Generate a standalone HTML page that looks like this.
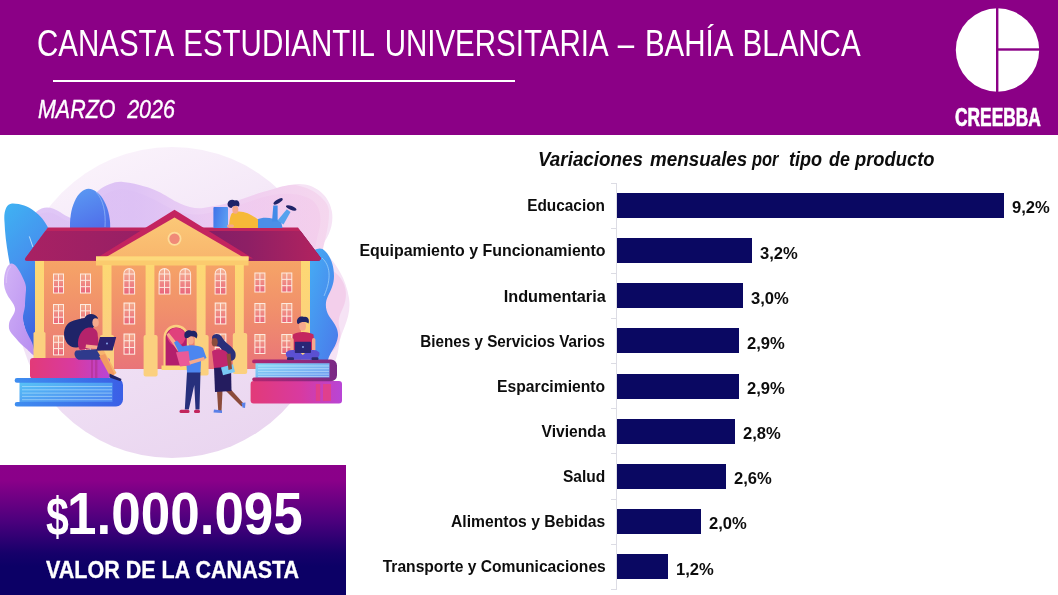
<!DOCTYPE html>
<html lang="es">
<head>
<meta charset="utf-8">
<title>Canasta Estudiantil Universitaria – Bahía Blanca</title>
<style>
html,body{margin:0;padding:0;background:#fff;}
body{width:1058px;height:595px;position:relative;overflow:hidden;font-family:"Liberation Sans",sans-serif;}
.abs{position:absolute;white-space:nowrap;line-height:1;}
#hdr{position:absolute;left:0;top:0;width:1058px;height:135px;background:#8b0086;}
#title{left:37px;top:26px;font-size:36px;color:#fff;word-spacing:3.2px;transform-origin:0 0;transform:scaleX(0.819);}
#rule{position:absolute;left:53px;top:80px;width:462px;height:2px;background:#fff;}
#sub{left:38px;top:96px;font-size:26px;font-style:italic;color:#fff;-webkit-text-stroke:0.4px #fff;word-spacing:7px;transform-origin:0 0;transform:scaleX(0.825);}
#logo{position:absolute;left:950px;top:4px;width:100px;height:96px;}
#brand{left:955.3px;top:104.2px;font-size:26px;font-weight:700;color:#fff;-webkit-text-stroke:0.7px #fff;transform-origin:0 0;transform:scaleX(0.668);}
#illus{position:absolute;left:0;top:135px;width:350px;height:330px;}
#box{position:absolute;left:0;top:465px;width:346px;height:130px;background:linear-gradient(180deg,#8b0089 0%,#8a0089 12%,#4c007d 43%,#16006a 68%,#0c0066 78%,#0c0066 100%);}
#cur{left:45.6px;top:489.2px;font-size:54px;font-weight:700;color:#fff;transform-origin:0 0;transform:scaleX(0.76);}
#val{left:67.4px;top:484.7px;font-size:59px;font-weight:700;color:#fff;transform-origin:0 0;transform:scaleX(0.8985);}
#cap{left:46px;top:559px;font-size:23px;font-weight:700;color:#fff;-webkit-text-stroke:0.3px #fff;transform-origin:0 0;transform:scaleX(0.936);}
#ctitle{position:absolute;left:0;top:149px;width:1058px;height:24px;font-size:20px;font-weight:700;font-style:italic;color:#0d0d0d;line-height:1;white-space:nowrap;}
.cw{position:absolute;top:0;transform-origin:0 0;}
#axis{position:absolute;left:616px;top:182.5px;width:1px;height:407px;background:#dcdce4;}
.tick{position:absolute;left:611px;width:6px;height:1px;background:#dcdce4;}
.bar{position:absolute;left:617px;height:25px;background:#0a0862;}
.lab{position:absolute;right:452.6px;white-space:nowrap;line-height:1;font-size:17px;font-weight:700;color:#0d0d0d;transform-origin:100% 0;}
.pct{position:absolute;white-space:nowrap;line-height:1;font-size:16.5px;font-weight:700;color:#0d0d0d;transform-origin:0 0;}
</style>
</head>
<body>
<div id="hdr"></div>
<div id="title" class="abs">CANASTA ESTUDIANTIL UNIVERSITARIA – BAHÍA BLANCA</div>
<div id="rule"></div>
<div id="sub" class="abs">MARZO 2026</div>
<svg id="logo" viewBox="950 4 100 96">
<circle cx="997.5" cy="50" r="41.7" fill="#fff"/>
<rect x="996" y="6" width="2.4" height="88" fill="#8b0086"/>
<rect x="997" y="48.3" width="44" height="2.4" fill="#8b0086"/>
</svg>
<div id="brand" class="abs">CREEBBA</div>

<svg id="illus" viewBox="0 135 350 330">
<defs>
<linearGradient id="gCirc" x1="0.2" y1="0" x2="0.6" y2="1"><stop offset="0" stop-color="#fbf4fc"/><stop offset="0.45" stop-color="#f2e4f6"/><stop offset="1" stop-color="#ead6f0"/></linearGradient>
<linearGradient id="gBlobL" x1="0" y1="0" x2="1" y2="1"><stop offset="0" stop-color="#d2b3f6"/><stop offset="1" stop-color="#b68cf0"/></linearGradient>
<linearGradient id="gBlobT" x1="0" y1="0" x2="0" y2="1"><stop offset="0" stop-color="#ead3f5"/><stop offset="1" stop-color="#dcc0f3"/></linearGradient>
<linearGradient id="gWave" gradientUnits="userSpaceOnUse" x1="36" y1="0" x2="330" y2="0"><stop offset="0" stop-color="#e0c7f6"/><stop offset="0.33" stop-color="#dec3f5"/><stop offset="0.55" stop-color="#ebcef4"/><stop offset="0.75" stop-color="#f1d0f0"/><stop offset="1" stop-color="#f5d7ee"/></linearGradient>
<linearGradient id="gWave2" gradientUnits="userSpaceOnUse" x1="36" y1="0" x2="330" y2="0"><stop offset="0" stop-color="#dcbff4" stop-opacity="0.55"/><stop offset="0.4" stop-color="#dcbff4" stop-opacity="0.5"/><stop offset="0.7" stop-color="#efc6ee" stop-opacity="0.45"/><stop offset="1" stop-color="#f3c8ea" stop-opacity="0.5"/></linearGradient>
<linearGradient id="gBlobR" x1="0" y1="0" x2="1" y2="1"><stop offset="0" stop-color="#f6e3f6"/><stop offset="1" stop-color="#f0cdec"/></linearGradient>
<linearGradient id="gLeaf1" x1="0" y1="0" x2="0.3" y2="1"><stop offset="0" stop-color="#3fb3f3"/><stop offset="0.5" stop-color="#4690ee"/><stop offset="1" stop-color="#3f63e0"/></linearGradient>
<linearGradient id="gLeaf2" x1="0" y1="0" x2="0.4" y2="1"><stop offset="0" stop-color="#5b9cf3"/><stop offset="1" stop-color="#5070ea"/></linearGradient><linearGradient id="gBook" x1="0" y1="0" x2="1" y2="0.3"><stop offset="0" stop-color="#3f72e8"/><stop offset="1" stop-color="#5a9cf2"/></linearGradient>
<linearGradient id="gLeaf3" x1="0" y1="0" x2="1" y2="1"><stop offset="0" stop-color="#45b0f5"/><stop offset="1" stop-color="#4a78ea"/></linearGradient>
<linearGradient id="gWall" x1="0" y1="0" x2="0" y2="1"><stop offset="0" stop-color="#f6a566"/><stop offset="0.5" stop-color="#f08e6c"/><stop offset="1" stop-color="#e97479"/></linearGradient>
<linearGradient id="gRoof" x1="0" y1="0" x2="1" y2="0"><stop offset="0" stop-color="#a82163"/><stop offset="1" stop-color="#7c1d68"/></linearGradient>
<linearGradient id="gRoofR" x1="0" y1="0" x2="1" y2="0"><stop offset="0" stop-color="#7c1d68"/><stop offset="0.5" stop-color="#8e1f65"/><stop offset="1" stop-color="#b2235f"/></linearGradient>
<linearGradient id="gPed" x1="0" y1="0" x2="0" y2="1"><stop offset="0" stop-color="#fbc877"/><stop offset="1" stop-color="#f8b66d"/></linearGradient>
<linearGradient id="gCol" x1="0" y1="0" x2="0" y2="1"><stop offset="0" stop-color="#fdd873"/><stop offset="1" stop-color="#fbcf80"/></linearGradient>
<linearGradient id="gWin" x1="0" y1="0" x2="0" y2="1"><stop offset="0" stop-color="#f7a3a0"/><stop offset="1" stop-color="#ee6f7c"/></linearGradient>
<linearGradient id="gPinkBk" x1="0" y1="0" x2="1" y2="0"><stop offset="0" stop-color="#e23a78"/><stop offset="0.55" stop-color="#d83aa0"/><stop offset="1" stop-color="#b845d6"/></linearGradient>
<linearGradient id="gBlueBk" x1="0" y1="0" x2="1" y2="0"><stop offset="0" stop-color="#3f8ef0"/><stop offset="1" stop-color="#3b5fe6"/></linearGradient>
<linearGradient id="gPages" x1="0" y1="0" x2="1" y2="1"><stop offset="0" stop-color="#58c3f6"/><stop offset="1" stop-color="#4a7ff0"/></linearGradient>
<linearGradient id="gPages2" x1="0" y1="0" x2="1" y2="1"><stop offset="0" stop-color="#86dcf6"/><stop offset="1" stop-color="#6a92f0"/></linearGradient>
<linearGradient id="gPurBk" x1="0" y1="0" x2="1" y2="0"><stop offset="0" stop-color="#b02670"/><stop offset="1" stop-color="#7a2a86"/></linearGradient>
<linearGradient id="gWinR" gradientUnits="userSpaceOnUse" x1="0" y1="0" x2="0" y2="20"><stop offset="0" stop-color="#f5ae8c"/><stop offset="1" stop-color="#e9637a"/></linearGradient><linearGradient id="gWinA" gradientUnits="userSpaceOnUse" x1="0" y1="0" x2="0" y2="26.6"><stop offset="0" stop-color="#f6b694"/><stop offset="1" stop-color="#e9637a"/></linearGradient>
<g id="winR"><rect x="0" y="0" width="11" height="20" fill="#fdeadf"/><g fill="url(#gWinR)"><rect x="1.00" y="1.00" width="4.00" height="5.33"/><rect x="6.00" y="1.00" width="4.00" height="5.33"/><rect x="1.00" y="7.33" width="4.00" height="5.33"/><rect x="6.00" y="7.33" width="4.00" height="5.33"/><rect x="1.00" y="13.67" width="4.00" height="5.33"/><rect x="6.00" y="13.67" width="4.00" height="5.33"/></g></g>
<g id="winA"><path d="M0 26.6V5.9a5.9 5.9 0 0 1 11.8 0V26.6Z" fill="#fdeadf"/><g fill="url(#gWinA)"><path d="M1.00 5.50V5.90A4.90 4.90 0 0 1 5.40 1.15V5.50Z"/><path d="M10.80 5.50V5.90A4.90 4.90 0 0 0 6.40 1.15V5.50Z"/><rect x="1.00" y="6.50" width="4.40" height="5.70"/><rect x="6.40" y="6.50" width="4.40" height="5.70"/><rect x="1.00" y="13.20" width="4.40" height="5.70"/><rect x="6.40" y="13.20" width="4.40" height="5.70"/><rect x="1.00" y="19.90" width="4.40" height="5.70"/><rect x="6.40" y="19.90" width="4.40" height="5.70"/></g></g>
</defs>
<!-- background -->
<circle cx="172" cy="302.5" r="155.5" fill="url(#gCirc)"/>
<path d="M262 200C275 188 292 182 305 184.5C319 187 330 198 332 212C334 226 328 238 320 248C332 258 345 274 349 298C352 318 341 330 339 345C337 365 326 385 300 396L290 300Z" fill="#f6e3f5"/>
<path d="M36 262V212C44 205 52 207 60 212C66 216 70 218 72 218L98 191C106 184.500 116 181 123 182C140 184 150 188 157 191C166 195 172 200 180 203.500C188 207 196 209 203 208C215 206 226 204 236 201C250 196 262 192 270 190C282 186 292 184 298 185.500C308 188 314 191 318 194.500C326 201 329 206 329 212C329 220 328 226 327 231L320 262Z" fill="url(#gWave)"/>
<path d="M36 262V216C46 210 54 213 60 217C66 221 70 222 74 222L100 198C110 190 120 188 128 190C142 193 154 199 164 205C176 212 190 216 203 214C220 211 240 205 260 198C280 192 300 192 312 200C322 208 322 222 318 234L312 262Z" fill="url(#gWave2)"/>
<path d="M322 262C330 270 338 272 343 282C348 292 346 302 342 310C338 318 338 324 340 330C342 338 338 346 332 352L316 352V262Z" fill="#f3cfeb"/>
<!-- leaves -->
<path d="M12 203.500C6 204 3.500 212 4.500 222C5 235 7 250 10 265C14 285 22 320 30 345L37 354V262L27 258L48 227.500C42 215 28 203 12 203.500Z" fill="url(#gLeaf1)"/>
<path d="M29.300 236.400L32.900 247" stroke="#d8eefc" stroke-width="0.8" fill="none"/>
<path d="M70.300 232C68 208 78 188.700 88.500 188.700C100 188.700 112 208 110 232Z" fill="url(#gLeaf2)"/>
<path d="M96 192C103 199 106 212 105 227" stroke="#8fb4f6" stroke-width="0.8" fill="none"/>
<path d="M306 262C310 250 320 245 325 251C331 257 334 266 334 276C334 284 331 290 328 296C325 302 325 309 329 316C334 323 338.500 328 338 336C337 346 330 352 328 360H306Z" fill="url(#gLeaf3)"/>
<path d="M322 258C330 265 332 278 324 296" stroke="#a5d6f9" stroke-width="0.7" fill="none"/>
<!-- left blob (in front of leaf) -->
<path d="M10 264C14 262 18 268 22 276C25 282 26.500 286 26 290C25.500 296 25 301 25 306C24.500 311 22.500 315 23 318.500C23.500 323 24.500 327 26 330.500C28 335 30.500 339 32 342.600C33 345.500 33.800 348 34 350.700L34.500 356C30 353 28 350 26 348.600C22 345.500 18.500 342 16 338.600C12.500 334.500 9.500 331.500 9 328.500C8.700 325 9 322.500 10 320.500C12 316 15.500 312.500 15 308.400C14 303.500 10 299.500 8 296.300C5 291 3.500 285.500 4 280C4.500 273 6.500 266 10 264Z" fill="url(#gBlobL)"/>
<path d="M6.300 283C6 275 8 268.500 11 266.500" stroke="#e2cdfa" stroke-width="0.8" fill="none" opacity="0.8"/>
<g id="building">
<!-- walls -->
<rect x="35" y="259" width="275" height="110" fill="url(#gWall)"/>
<!-- pilasters -->
<rect x="35" y="259" width="9" height="100" fill="url(#gCol)"/>
<rect x="33.5" y="332" width="12" height="27" rx="1.5" fill="#fbd07f"/>
<rect x="301" y="259" width="9" height="102" fill="url(#gCol)"/>
<!-- main roof -->
<path d="M47.800 227.600H298L320.500 257.500Q321.500 260.700 318 260.700H27.500Q23.500 260.700 26 257.300Z" fill="#bd245e"/>
<path d="M45.500 231H300.500L320.500 257.500Q321.500 260.700 318 260.700H27.500Q23.500 260.700 26 257.300Z" fill="url(#gRoof)"/>
<path d="M174.500 231H300.500L320.500 257.500Q321.500 260.700 318 260.700H174.500Z" fill="url(#gRoofR)"/>
<!-- pediment -->
<path d="M174.5 209.7L253 258.5H96Z" fill="#c4245f"/>
<path d="M174.5 217.6L244.5 258H104.5Z" fill="url(#gPed)"/>
<circle cx="174.5" cy="238.8" r="7" fill="#fddc9a"/>
<circle cx="174.5" cy="238.8" r="5.2" fill="#f08a78"/>
<!-- windows left wall -->
<use href="#winR" x="53" y="273.5"/><use href="#winR" x="80" y="273.5"/>
<use href="#winR" x="53" y="304"/><use href="#winR" x="80" y="304"/>
<use href="#winR" x="53" y="335.4"/><use href="#winR" x="80" y="335.4"/>
<!-- windows right wall -->
<use href="#winR" x="254.4" y="272.5"/><use href="#winR" x="281.3" y="272.5"/>
<use href="#winR" x="254.4" y="303"/><use href="#winR" x="281.3" y="303"/>
<use href="#winR" x="254.4" y="334"/><use href="#winR" x="281.3" y="334"/>
<!-- center windows -->
<use href="#winA" x="123.3" y="268"/><use href="#winA" x="158.6" y="268"/><use href="#winA" x="179.3" y="268"/><use href="#winA" x="214.6" y="268"/>
<use href="#winR" x="0" y="0" transform="translate(123.5 302.5) scale(1.06 1.1)"/><use href="#winR" x="0" y="0" transform="translate(214.7 302.5) scale(1.06 1.1)"/>
<use href="#winR" x="0" y="0" transform="translate(123.5 333.5) scale(1.06 1.06)"/><use href="#winR" x="0" y="0" transform="translate(214.7 333.5) scale(1.06 1.06)"/>
<!-- door -->
<path d="M163.5 369V337.5a12.7 12.7 0 0 1 25.4 0V369Z" fill="#fbd07f"/>
<path d="M165.6 366V338a10.6 10.6 0 0 1 21.2 0V366Z" fill="#b31f6c"/>
<path d="M167 336a9.5 9.5 0 0 1 18.5-1.5C186 341 182 346 177 346C172 346 168 342 167 336Z" fill="#e0407c"/>
<rect x="161.5" y="365.5" width="29.5" height="4.5" fill="#fdd777"/>
<!-- entablature -->
<rect x="96" y="256.5" width="152.5" height="9" fill="#fbcb6e"/>
<rect x="96" y="256.5" width="152.5" height="4" fill="#fdd97c"/>
<!-- columns -->
<g fill="url(#gCol)">
<rect x="102.5" y="265" width="9" height="72"/><rect x="145.6" y="265" width="8.8" height="72"/><rect x="196.6" y="265" width="9" height="72"/><rect x="235" y="265" width="8.8" height="72"/>
</g>
<g fill="#fbd07f">
<rect x="100" y="335" width="14" height="41" rx="2"/><rect x="143.6" y="335" width="14" height="41.5" rx="2"/><rect x="194.6" y="335" width="14" height="40.5" rx="2"/><rect x="232.8" y="333" width="14.4" height="41" rx="2"/>
</g>
</g>

<g id="people">
<!-- roof boy -->
<rect x="213.4" y="207" width="14.6" height="21" rx="1" fill="url(#gBook)"/>
<path d="M257 219.5C264 216 273 218 281 221L282.5 228H257Z" fill="#4b8fe8"/>
<path d="M272 221.500L277.600 221.500L277.600 205.500L273.300 205.500Z" fill="#428be8"/>
<path d="M277.500 220.500L283.500 224.500L290.500 212L286.800 209.300Z" fill="#55a2ee"/>
<ellipse cx="278.100" cy="201.300" rx="5.300" ry="1.900" transform="rotate(-32 278.100 201.300)" fill="#1f2468"/>
<ellipse cx="291.200" cy="207.900" rx="5.600" ry="2" transform="rotate(21 291.200 207.900)" fill="#1f2468"/>
<path d="M232 213C240 209 250 213 258 219.5V228H229C229 222 230 216 232 213Z" fill="#f6b938"/>
<ellipse cx="235.3" cy="209.6" rx="3" ry="4.2" fill="#f6a98c"/>
<path d="M227.5 204C228 200 232 199 235 200.5C238 199.5 240.5 202.5 239 206.5C236 205 233 205.5 231.5 208C229.5 208 227.5 206.5 227.5 204Z" fill="#1f2468"/>
<rect x="227" y="224.5" width="7" height="3" rx="1.5" fill="#f6a98c"/>
<!-- left books -->
<rect x="30" y="358" width="80" height="20.5" rx="3" fill="url(#gPinkBk)"/>
<rect x="91" y="358" width="2" height="20.5" fill="#b0308e" opacity="0.6"/><rect x="95" y="358" width="2.4" height="20.5" fill="#b0308e" opacity="0.6"/>
<rect x="19.5" y="382" width="95" height="21" fill="url(#gPages)"/>
<g stroke="#c9ecfc" stroke-width="0.6" opacity="0.85"><path d="M22 386.5H112M22 389.8H112M22 393.1H112M22 396.4H112M22 399.7H112"/></g>
<path d="M17 378H116a7 7 0 0 1 7 7V399.5a7 7 0 0 1-7 7H17a2.3 2.3 0 0 1 0-4.6H112.5V382.8H17a2.4 2.4 0 0 1 0-4.8Z" fill="url(#gBlueBk)"/>
<!-- girl -->
<path d="M98 318C95 312.5 87 312.5 84.5 318C78 319.5 69 320 65.5 327C62 334 65 343.5 71 346.5C76 349 82 347 84 342C87 337 89 332 93 328Z" fill="#1f2468"/>
<path d="M84 329.5C89 326 96 327.5 97.5 333L99 347L80 350C76 345 78 334.5 84 329.5Z" fill="#b5236b"/>
<ellipse cx="95.6" cy="322.6" rx="3.2" ry="4.3" fill="#f6a98c"/>
<path d="M86 344.5L101 346L100.5 349L85.5 348Z" fill="#f6a98c"/>
<path d="M76 350.5L100 349C103.5 352 102.5 357 99.5 359.8H78.5C74 357.5 73.5 352.5 76 350.5Z" fill="#2e3a8c"/>
<path d="M97 350.5L103.5 350L116.5 373L112.5 376Z" fill="#f7b46e"/>
<path d="M99 356L105 354L114.5 374L110.5 377Z" fill="#f29a62"/>
<path d="M109.5 373.5L121.5 379L120.5 381.3L109.5 377.5Z" fill="#1f2468"/>
<path d="M100 337H116.2L112.6 350.6H96.4Z" fill="#2a2170"/>
<circle cx="107" cy="343.5" r="0.9" fill="#8fb0f5"/>
<!-- right books -->
<rect x="250.6" y="381" width="91.4" height="22.5" rx="3" fill="url(#gPinkBk)"/>
<rect x="315.8" y="384" width="4.4" height="17" fill="#e8407c" opacity="0.75"/><rect x="323" y="384" width="8" height="17" fill="#e8407c" opacity="0.75"/>
<rect x="255.5" y="363" width="76" height="15.5" fill="url(#gPages2)"/>
<g stroke="#e3f6fd" stroke-width="0.55" opacity="0.9"><path d="M258 366H329M258 368.7H329M258 371.4H329M258 374.1H329M258 376.6H329"/></g>
<path d="M254 359.5H331a6 6 0 0 1 6 6V375.2a6 6 0 0 1-6 6H254a1.8 1.8 0 0 1 0-3.6H329.5V363.3H254a1.9 1.9 0 0 1 0-3.8Z" fill="url(#gPurBk)"/>
<!-- right boy -->
<path d="M293 334.5C297 331 308.5 331 313.5 334.5L314.5 350H291.5Z" fill="#c4265f"/>
<rect x="290.3" y="338" width="3.4" height="13" rx="1.7" fill="#f6a98c"/><rect x="312" y="338" width="3.4" height="13" rx="1.7" fill="#f6a98c"/>
<ellipse cx="302.6" cy="326.2" rx="3.4" ry="4.6" fill="#f6a98c"/>
<path d="M297 322C296.5 317.5 301 315.5 304 317C307.5 316 310 319.5 308.5 323.5C305.5 321.5 301 321.5 298.5 324C297.5 324 297 323 297 322Z" fill="#1f2468"/>
<path d="M286 352.5C291 347 300 351.5 302.8 355C306 351.5 314.5 347 319.3 352.5C320.5 356.5 316.5 359.8 310.5 359.8H294.5C288.5 359.8 285 356.5 286 352.5Z" fill="#5b50d2"/>
<rect x="294.8" y="341.7" width="16.2" height="11.3" rx="0.8" fill="#2a2575"/>
<circle cx="303" cy="347" r="0.9" fill="#8fb0f5"/>
<rect x="287" y="357.3" width="7" height="2.8" rx="1.2" fill="#2b2a6e"/><rect x="311.5" y="357.3" width="7" height="2.8" rx="1.2" fill="#2b2a6e"/>
<!-- man -->
<path d="M187 372H200.500L199.500 409.500H195.500L194.300 385L188.800 409.500H184.800Z" fill="#27307c"/>
<rect x="179.5" y="409.8" width="10" height="3.2" rx="1.5" fill="#c2255c"/><rect x="194" y="409.8" width="6" height="3.2" rx="1.5" fill="#c2255c"/>
<path d="M166.300 334.500L168.800 332.800L181 348L178 351.500Z" fill="#f6a98c"/><path d="M174 342.500L177 340.500L183.500 347.500L179 352.500Z" fill="#4c86f0"/>
<path d="M180 347.5C186 344.5 198 344.5 203 348L206.5 358L201 360.5L200.5 372.5H187L186 359L178 352.5Z" fill="#4c86f0"/>
<ellipse cx="190.6" cy="340.2" rx="3.2" ry="4.3" fill="#f6a98c"/>
<path d="M184.5 336.5C183.5 331.5 188 329 192 331C196 329.5 199 334 196.5 338.5C194 336 190.5 335.5 188 338C186 338.5 184.5 337.8 184.5 336.5Z" fill="#1f2468"/>
<path d="M176 352.2L188.5 351L190.5 365.2L180 366.5Z" fill="#ea5a98"/>
<path d="M189 361L204 357L205 360L190 364.5Z" fill="#f6a98c"/>
<!-- woman -->
<path d="M217 391H222.5L221.5 411.5H218.3Z" fill="#8b4b3b"/>
<path d="M225 390L230.5 389L244 404L241.5 406.5Z" fill="#8b4b3b"/>
<path d="M214 409.5L222 410.5L222 413L213.5 412.5Z" fill="#5a80e8"/><path d="M241.5 403L245.5 402.5L245 408L242.5 407.5Z" fill="#5a80e8"/>
<path d="M214 367L231 366L231.5 391L215 392Z" fill="#241c5f"/>
<path d="M212 337C214 332.5 220.5 333.5 222.5 338C226 344 232.5 346 235.2 352C237 358 233.5 362.5 229 360C227 354 222 350 219 346.5C215.5 346.5 212 342.5 212 337Z" fill="#2b2f7a"/>
<path d="M212 351.5C216 348 224 349 227.5 353L231.5 366.5L214 368Z" fill="#c0266e"/>
<ellipse cx="214.7" cy="342.2" rx="3" ry="4.2" fill="#8b4b3b"/>
<path d="M221 367.5L233 364.3L235 372L223 375.2Z" fill="#78c8f5"/>
<path d="M226.5 354L230.5 353.5L232 369L228.5 370Z" fill="#8b4b3b"/>
</g>

</svg>


<div id="box"></div>
<div id="cur" class="abs">$</div>
<div id="val" class="abs">1.000.095</div>
<div id="cap" class="abs">VALOR DE LA CANASTA</div>

<div id="ctitle"><span class="cw" style="left:537.92px;transform:scaleX(0.9413)">Variaciones</span> <span class="cw" style="left:650.0px;transform:scaleX(0.9412)">mensuales</span> <span class="cw" style="left:752.1px;transform:scaleX(0.8212)">por</span> <span class="cw" style="left:788.7px;transform:scaleX(0.9029)">tipo</span> <span class="cw" style="left:828.81px;transform:scaleX(0.8909)">de</span> <span class="cw" style="left:854.6px;transform:scaleX(0.9174)">producto</span></div>
<div id="axis"></div>
<div class="tick" style="top:182.5px"></div>
<div class="bar" style="top:193.0px;width:387.0px"></div>
<div class="lab" style="top:197.2px;transform:scaleX(0.9046)">Educacion</div>
<div class="pct" style="left:1012.0px;top:199.4px;transform:scaleX(1.005)">9,2%</div>
<div class="tick" style="top:227.65px"></div>
<div class="bar" style="top:238.15px;width:134.6px"></div>
<div class="lab" style="top:242.35px;transform:scaleX(0.9376)">Equipamiento y Funcionamiento</div>
<div class="pct" style="left:759.6px;top:244.55px;transform:scaleX(1.005)">3,2%</div>
<div class="tick" style="top:272.8px"></div>
<div class="bar" style="top:283.3px;width:126.2px"></div>
<div class="lab" style="top:287.5px;transform:scaleX(0.956)">Indumentaria</div>
<div class="pct" style="left:751.2px;top:289.7px;transform:scaleX(1.005)">3,0%</div>
<div class="tick" style="top:317.95px"></div>
<div class="bar" style="top:328.45px;width:122.0px"></div>
<div class="lab" style="top:332.65px;transform:scaleX(0.8968)">Bienes y Servicios Varios</div>
<div class="pct" style="left:747.0px;top:334.85px;transform:scaleX(1.005)">2,9%</div>
<div class="tick" style="top:363.1px"></div>
<div class="bar" style="top:373.6px;width:122.0px"></div>
<div class="lab" style="top:377.8px;transform:scaleX(0.923)">Esparcimiento</div>
<div class="pct" style="left:747.0px;top:380.0px;transform:scaleX(1.005)">2,9%</div>
<div class="tick" style="top:408.25px"></div>
<div class="bar" style="top:418.75px;width:117.8px"></div>
<div class="lab" style="top:422.95px;transform:scaleX(0.9211)">Vivienda</div>
<div class="pct" style="left:742.8px;top:425.15px;transform:scaleX(1.005)">2,8%</div>
<div class="tick" style="top:453.4px"></div>
<div class="bar" style="top:463.9px;width:109.4px"></div>
<div class="lab" style="top:468.1px;transform:scaleX(0.9143)">Salud</div>
<div class="pct" style="left:734.4px;top:470.3px;transform:scaleX(1.005)">2,6%</div>
<div class="tick" style="top:498.55px"></div>
<div class="bar" style="top:509.05px;width:84.1px"></div>
<div class="lab" style="top:513.25px;transform:scaleX(0.9221)">Alimentos y Bebidas</div>
<div class="pct" style="left:709.1px;top:515.45px;transform:scaleX(1.005)">2,0%</div>
<div class="tick" style="top:543.7px"></div>
<div class="bar" style="top:554.2px;width:50.5px"></div>
<div class="lab" style="top:558.4px;transform:scaleX(0.9191)">Transporte y Comunicaciones</div>
<div class="pct" style="left:675.5px;top:560.6px;transform:scaleX(1.005)">1,2%</div>
<div class="tick" style="top:588.85px"></div>
</body>
</html>
